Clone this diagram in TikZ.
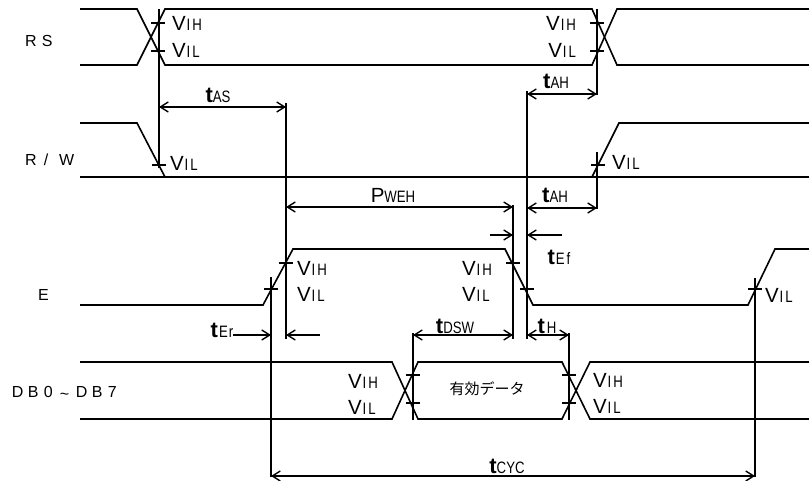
\documentclass[tikz,border=0pt]{standalone}
\usepackage{fontspec}
\usepackage{graphicx}
\setmainfont{Liberation Sans}
\newfontfamily\nrw[FakeStretch=0.8]{Liberation Sans}
\newfontfamily\cjk{Noto Sans CJK JP}
\usetikzlibrary{arrows.meta}
\newcommand\Lg[1]{{\fontsize{20.5}{20.5}\selectfont #1}}
\newcommand\Tt{{\fontsize{22}{22}\selectfont\bfseries t}}
\newcommand\Sm[1]{{\nrw\fontsize{16.5}{16.5}\selectfont #1}}
\newcommand\VIH{\Lg{V}\kern1pt\Sm{I\kern2pt H}}
\newcommand\VIL{\Lg{V}\kern1pt\Sm{I\kern2pt L}}
\newcommand\nm[2]{\makebox[#1][l]{#2}}
\begin{document}
\begin{tikzpicture}[x=1pt,y=-1pt,
  sig/.style={line width=1.6pt, line join=miter},
  guide/.style={line width=1.5pt},
  dimboth/.style={line width=1.4pt, {Straight Barb[length=8pt,width=10pt]}-{Straight Barb[length=8pt,width=10pt]}},
  dimone/.style={line width=1.4pt, -{Straight Barb[length=8pt,width=10pt]}},
  lbl/.style={inner sep=0pt, outer sep=0pt},
  signame/.style={inner sep=0pt, outer sep=0pt, anchor=west, font=\fontsize{16}{16}\selectfont}]
\useasboundingbox (0,0) rectangle (809,481);

% ---------- signal names ----------
\node[signame] (nRS) at (25,41) {\nm{17pt}{R}S};
\node[signame] (nRW) at (25,160) {\nm{19pt}{R}\nm{15pt}{/}W};
\node[signame] (nE)  at (38,295) {E};
\node[signame] (nDB) at (12,393) {\nm{16pt}{D}\nm{16pt}{B}\nm{16pt}{0}\nm{16pt}{\raisebox{-1.5pt}{\textasciitilde}}\nm{16pt}{D}\nm{16pt}{B}7};

% ---------- waveforms ----------
% RS
\draw[sig] (80,9) -- (137,9) -- (165,65) -- (592,65) -- (617,9) -- (809,9);
\draw[sig] (80,65) -- (137,65) -- (165,9) -- (592,9) -- (617,65) -- (809,65);
% R/W
\draw[sig] (80,177) -- (809,177);
\draw[sig] (80,123) -- (137,123) -- (165,177);
\draw[sig] (592,177) -- (619,123) -- (809,123);
% E
\draw[sig] (80,305) -- (263,305) -- (293,249) -- (505,249) -- (533,305) -- (748,305) -- (775,249) -- (809,249);
% DB0~DB7
\draw[sig] (80,362) -- (392,362) -- (418,419) -- (562,419) -- (590,362) -- (809,362);
\draw[sig] (80,419) -- (392,419) -- (418,362) -- (562,362) -- (590,419) -- (809,419);

% ---------- threshold ticks ----------
\foreach \x/\y in {158/23, 158/51, 159/165, 597/23, 597/51, 598/165,
                   271/289, 286/263, 513/263, 527/289, 755/289,
                   413/375, 413/403, 569/375, 569/403}
  \draw[guide] ({\x-7},\y) -- ({\x+7},\y);

% ---------- reference verticals ----------
\coordinate (a1) at (159,9);   \coordinate (a2) at (159,168);
\coordinate (b1) at (286,103); \coordinate (b2) at (286,339);
\coordinate (c1) at (271,277); \coordinate (c2) at (271,477);
\coordinate (d1) at (513,205); \coordinate (d2) at (513,339);
\coordinate (e1) at (527,91);  \coordinate (e2) at (527,339);
\coordinate (f1) at (597,9);   \coordinate (f2) at (597,95);
\coordinate (g1) at (597,152); \coordinate (g2) at (597,209);
\coordinate (h1) at (413,333); \coordinate (h2) at (413,420);
\coordinate (i1) at (569,333); \coordinate (i2) at (569,420);
\coordinate (j1) at (755,278); \coordinate (j2) at (755,477);
\foreach \p in {a,b,c,d,e,f,g,h,i,j} \draw[guide] (\p1) -- (\p2);

% ---------- dimension arrows ----------
\draw[dimboth] (159,107) -- (286,107);
\draw[dimboth] (527,94) -- (597,94);
\draw[dimboth] (286,207) -- (513,207);
\draw[dimboth] (527,208) -- (597,208);
\draw[dimone] (490,235) -- (513,235);
\draw[dimone] (562,235) -- (527,235);
\draw[dimone] (233,335) -- (271,335);
\draw[dimone] (320,335) -- (286,335);
\draw[dimboth] (413,335) -- (513,335);
\draw[dimboth] (527,335) -- (569,335);
\draw[dimboth] (271,476) -- (755,476);

% ---------- threshold labels ----------
\node[lbl, anchor=west] (l1) at (172,23) {\VIH};
\node[lbl, anchor=west] (l2) at (172,50) {\VIL};
\node[lbl, anchor=east] (l3) at (576,23) {\VIH};
\node[lbl, anchor=east] (l4) at (576,50) {\VIL};
\node[lbl, anchor=west] (l5) at (170,163) {\VIL};
\node[lbl, anchor=west] (l6) at (612,162) {\VIL};
\node[lbl, anchor=west] (l7) at (297,268) {\VIH};
\node[lbl, anchor=west] (l8) at (297,294) {\VIL};
\node[lbl, anchor=west] (l9) at (462,268) {\VIH};
\node[lbl, anchor=west] (l10) at (462,294) {\VIL};
\node[lbl, anchor=west] (l11) at (765,295) {\VIL};
\node[lbl, anchor=west] (l12) at (348,381) {\VIH};
\node[lbl, anchor=west] (l13) at (348,407) {\VIL};
\node[lbl, anchor=west] (l14) at (593,380) {\VIH};
\node[lbl, anchor=west] (l15) at (593,406) {\VIL};

% ---------- timing labels ----------
\node[lbl] (tAS) at (218,95) {\Tt\Sm{AS}};
\node[lbl] (tAH1) at (556,81) {\Tt\Sm{AH}};
\node[lbl] (tAH2) at (555,195) {\Tt\Sm{AH}};
\node[lbl] (PWEH) at (393,195) {\Lg{P}\Sm{WEH}};
\node[lbl] (tEf) at (559,257) {\Tt\kern1pt\Sm{E\kern2pt f}};
\node[lbl] (tEr) at (222,330) {\Tt\kern1pt\Sm{E\kern1pt r}};
\node[lbl] (tDSW) at (455,326) {\Tt\Sm{DSW}};
\node[lbl] (tH) at (547,326) {\Tt\kern2pt\Sm{H}};
\node[lbl] (tCYC) at (507,466) {\Tt\Sm{CYC}};
\node[lbl] (data) at (487,389) {\cjk\fontsize{15}{15}\selectfont 有効データ};
\end{tikzpicture}
\end{document}
